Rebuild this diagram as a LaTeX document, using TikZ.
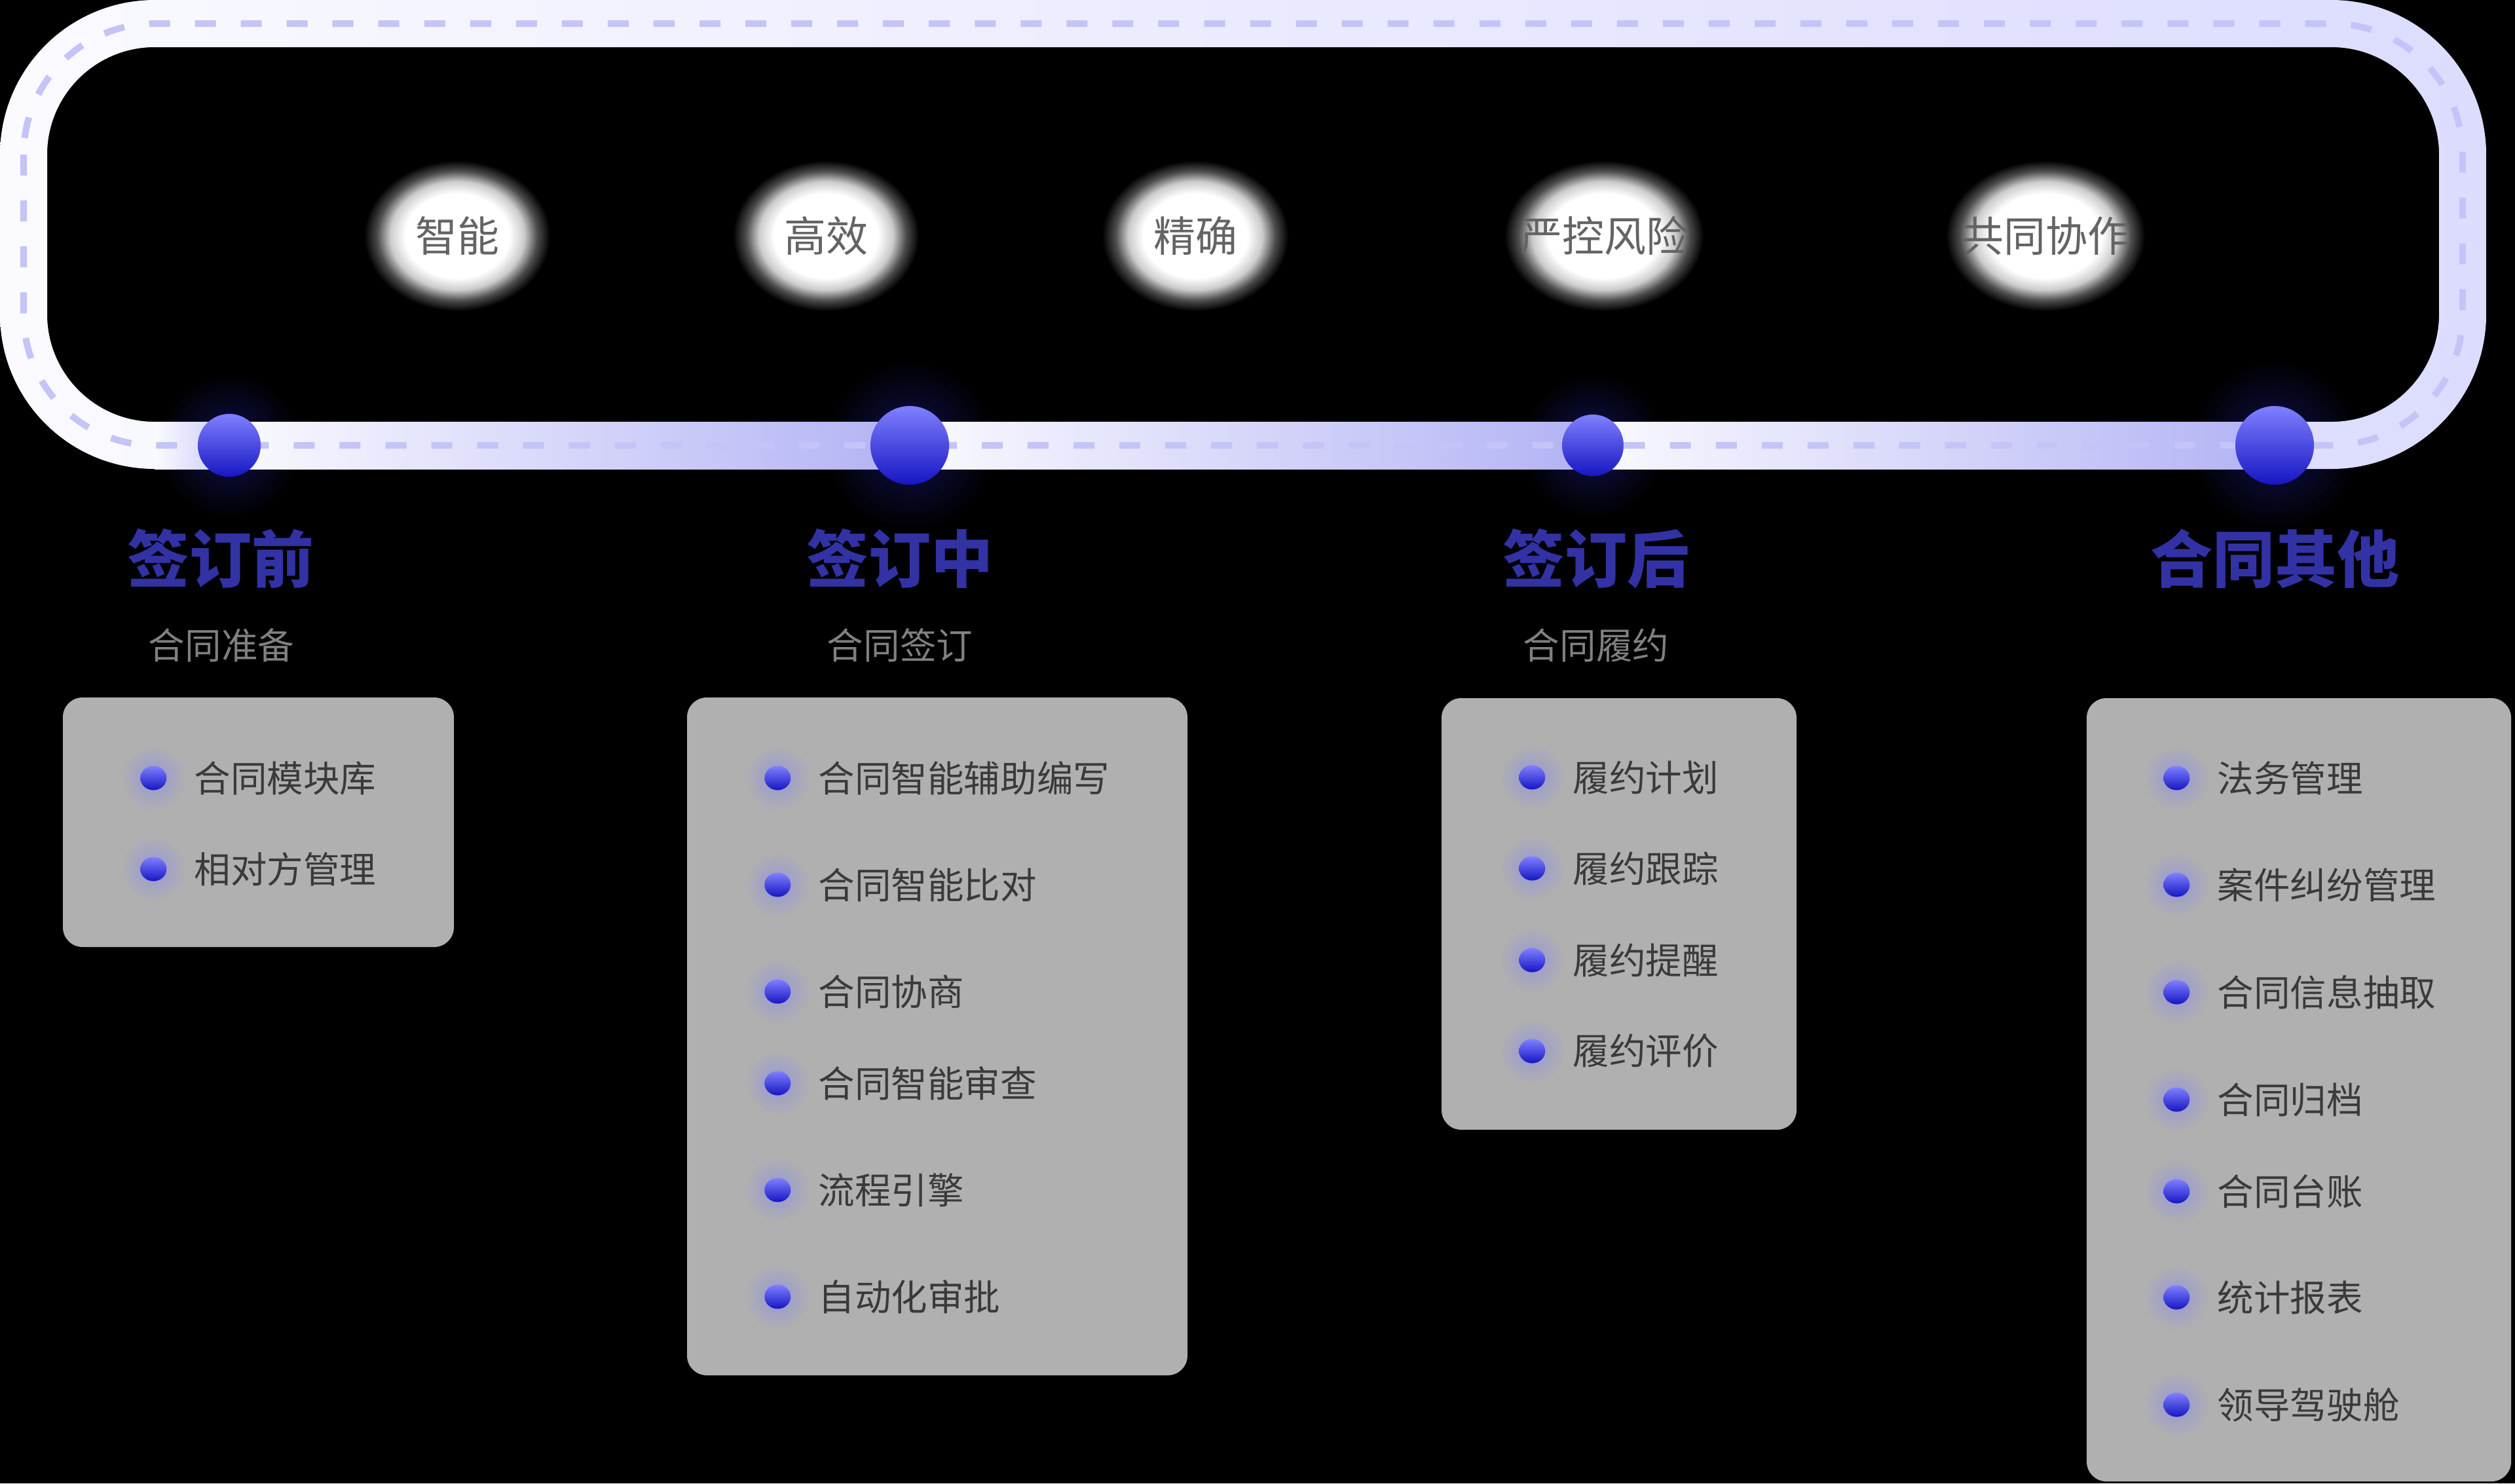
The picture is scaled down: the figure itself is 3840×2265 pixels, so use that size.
\documentclass[tikz,border=0pt]{standalone}
\usepackage{fontspec}
\newfontfamily\cjk{Noto Sans CJK SC}
\usetikzlibrary{shapes.geometric}

\definecolor{trackLight}{RGB}{250,250,255}
\definecolor{trackLav}{RGB}{220,220,255}
\definecolor{segLav}{RGB}{178,178,245}
\definecolor{dashLav}{RGB}{196,196,248}
\definecolor{dotTop}{RGB}{128,128,255}
\definecolor{dotBottom}{RGB}{22,22,195}
\definecolor{navyGlow}{RGB}{16,16,80}
\definecolor{tagInk}{RGB}{100,100,100}
\definecolor{phaseBlue}{RGB}{50,50,165}
\definecolor{subInk}{RGB}{128,128,128}
\definecolor{panelGrey}{RGB}{176,176,176}
\definecolor{itemInk}{RGB}{58,58,58}
\definecolor{bulletGlow}{RGB}{150,150,215}

\pgfdeclareradialshading{whiteglow}{\pgfpoint{0bp}{0bp}}{color(0bp)=(white); color(14bp)=(white); color(18bp)=(white!80!black); color(21.5bp)=(white!30!black); color(25bp)=(black); color(50bp)=(black)}

\tikzset{
  tagglow/.style={shading=whiteglow},
  tagtext/.style={inner sep=0pt, text=tagInk, font=\cjk\fontsize{18.2}{21}\selectfont},
  phasetitle/.style={text=phaseBlue, font=\cjk\bfseries\fontsize{27}{31}\selectfont},
  phasesub/.style={text=subInk, font=\cjk\fontsize{15.8}{18}\selectfont},
  phasedot/.style={circle, inner sep=0pt, top color=dotTop, bottom color=dotBottom},
  panel/.style={fill=panelGrey, rounded corners=0.3cm},
  itemdot/.style={ellipse, inner sep=0pt, minimum width=0.4cm, minimum height=0.37cm, top color=dotTop, bottom color=dotBottom},
  itemglow/.style={circle, inner sep=0pt, minimum size=1cm, inner color=bulletGlow, outer color=panelGrey},
  listitem/.style={anchor=west, inner sep=0pt, text=itemInk, font=\cjk\fontsize{15.8}{18}\selectfont,
    label={[itemglow, xshift=-0.11cm]left:{}},
    label={[itemdot, xshift=-0.41cm]left:{}}},
}

\begin{document}
\begin{tikzpicture}[x=0.01cm, y=-0.01cm]
\useasboundingbox (0,0) rectangle (3840,2265);
\fill[black] (0,0) rectangle (3840,2265);
% stops on the track
\coordinate (c1) at (350,680);
\coordinate (c2) at (1389,680);
\coordinate (c3) at (2432,680);
\coordinate (c4) at (3473,680);
\shade[inner color=navyGlow, outer color=black] (c1) circle (1.1cm);
\shade[inner color=navyGlow, outer color=black] (c2) circle (1.3cm);
\shade[inner color=navyGlow, outer color=black] (c3) circle (1.1cm);
\shade[inner color=navyGlow, outer color=black] (c4) circle (1.3cm);
% track
\shade[even odd rule, left color=trackLight, right color=trackLav] (0,0) [rounded corners=2.36cm] rectangle (3796,716) (72,72) [rounded corners=1.64cm] rectangle (3724,644);
\shade[left color=trackLight, right color=segLav!70] (236,644) rectangle (350,716);
\shade[left color=trackLight, right color=segLav] (350,644) rectangle (1389,716);
\shade[left color=trackLight, right color=segLav] (1389,644) rectangle (2432,716);
\shade[left color=trackLight, right color=segLav] (2432,644) rectangle (3473,716);
\draw[dashLav, line width=0.1cm, dash pattern=on 0.32cm off 0.38cm, rounded corners=2cm] (36,36) rectangle (3760,680);
\node[phasedot, minimum size=0.96cm] (p1) at (c1) {};
\node[phasedot, minimum size=1.2cm] (p2) at (c2) {};
\node[phasedot, minimum size=0.94cm] (p3) at (c3) {};
\node[phasedot, minimum size=1.2cm] (p4) at (c4) {};
% glowing tags
\coordinate (g1) at (698,360);
\coordinate (g2) at (1261,360);
\coordinate (g3) at (1825,360);
\coordinate (g4) at (2449,360);
\coordinate (g5) at (3123,360);
\shade[tagglow] (g1) ellipse (1.42cm and 1.15cm);
\shade[tagglow] (g2) ellipse (1.42cm and 1.15cm);
\shade[tagglow] (g3) ellipse (1.42cm and 1.15cm);
\shade[tagglow] (g4) ellipse (1.52cm and 1.15cm);
\shade[tagglow] (g5) ellipse (1.52cm and 1.15cm);
\node[tagtext] (t1) at (g1) {智能};
\node[tagtext] (t2) at (g2) {高效};
\node[tagtext] (t3) at (g3) {精确};
\node[tagtext] (t4) at (g4) {严控风险};
\node[tagtext] (t5) at (g5) {共同协作};
% phases
\node[phasetitle] (h1) at (337,853) {签订前};
\node[phasetitle] (h2) at (1374,853) {签订中};
\node[phasetitle] (h3) at (2437,853) {签订后};
\node[phasetitle] (h4) at (3473,853) {合同其他};
\node[phasesub] (s1) at (338,985) {合同准备};
\node[phasesub] (s2) at (1374,985) {合同签订};
\node[phasesub] (s3) at (2437,985) {合同履约};
% panels
\fill[panel] (96,1065) rectangle (693,1446);
\fill[panel] (1049,1065) rectangle (1813,2100);
\fill[panel] (2201,1066) rectangle (2743,1725);
\fill[panel] (3186,1066) rectangle (3834,2262);
\node[listitem] (pre1) at (296,1188) {合同模块库};
\node[listitem] (pre2) at (296,1327) {相对方管理};
\node[listitem] (mid1) at (1249,1188) {合同智能辅助编写};
\node[listitem] (mid2) at (1249,1351) {合同智能比对};
\node[listitem] (mid3) at (1249,1514) {合同协商};
\node[listitem] (mid4) at (1249,1654) {合同智能审查};
\node[listitem] (mid5) at (1249,1817) {流程引擎};
\node[listitem] (mid6) at (1249,1980) {自动化审批};
\node[listitem] (post1) at (2401,1187) {履约计划};
\node[listitem] (post2) at (2401,1326) {履约跟踪};
\node[listitem] (post3) at (2401,1466) {履约提醒};
\node[listitem] (post4) at (2401,1605) {履约评价};
\node[listitem] (oth1) at (3385,1188) {法务管理};
\node[listitem] (oth2) at (3385,1351) {案件纠纷管理};
\node[listitem] (oth3) at (3385,1515) {合同信息抽取};
\node[listitem] (oth4) at (3385,1679) {合同归档};
\node[listitem] (oth5) at (3385,1819) {合同台账};
\node[listitem] (oth6) at (3385,1981) {统计报表};
\node[listitem] (oth7) at (3385,2145) {领导驾驶舱};
\end{tikzpicture}
\end{document}
